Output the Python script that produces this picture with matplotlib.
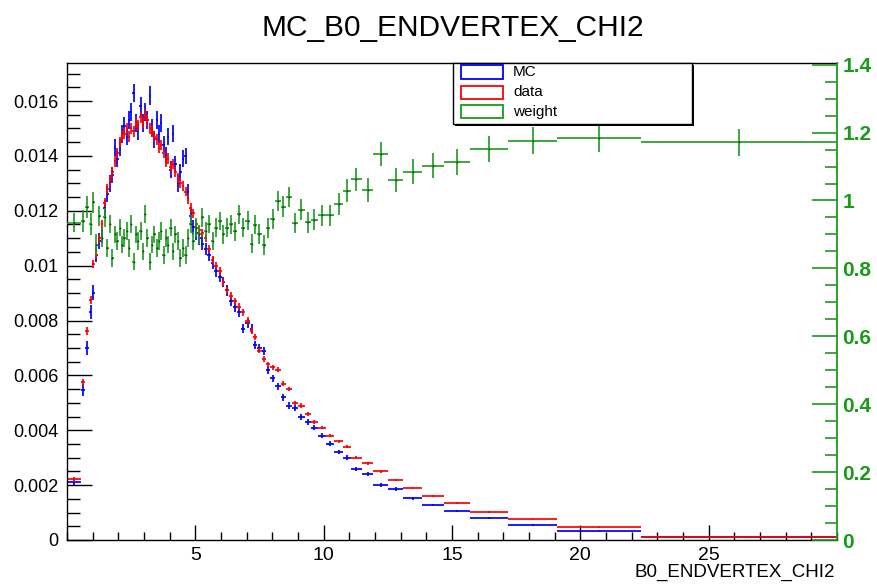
import numpy as np
import matplotlib
matplotlib.use("Agg")
import matplotlib.pyplot as plt
from matplotlib.patches import Rectangle
from matplotlib.ticker import FixedLocator, MultipleLocator, FuncFormatter

plt.rcParams["font.family"] = ["Liberation Sans", "DejaVu Sans"]

# ── data ─────────────────────────────────────────────────
bin_edges = [
    0.0, 0.55, 0.70, 0.86, 0.98,
    1.08, 1.20, 1.31, 1.42, 1.52, 1.62, 1.72, 1.82, 1.92, 2.01,
    2.10, 2.19, 2.28, 2.37, 2.46, 2.55, 2.64, 2.73, 2.82, 2.91,
    3.00, 3.09, 3.18, 3.27, 3.36, 3.45, 3.54, 3.63, 3.72, 3.81,
    3.90, 3.99, 4.08, 4.17, 4.27, 4.37, 4.47, 4.57, 4.67, 4.77,
    4.87, 4.97,
    5.09, 5.21, 5.34, 5.47, 5.60, 5.74, 5.88, 6.02, 6.17, 6.32,
    6.47, 6.63, 6.79, 6.95, 7.12,
    7.26, 7.42, 7.58, 7.74, 7.91, 8.11, 8.32, 8.54, 8.76, 9.01,
    9.26, 9.50, 9.77, 10.08, 10.42, 10.75, 11.05, 11.48, 11.94, 12.50,
    13.10, 13.85, 14.68, 15.72, 17.17, 19.11, 22.37, 30.0,
]

mc_vals = [
    0.00212, 0.00547, 0.00699, 0.00832, 0.00901, 0.0104, 0.0109, 0.0111, 0.0121, 0.0126,
    0.0130, 0.0133, 0.0143, 0.0139, 0.0143, 0.0148, 0.0151, 0.0147, 0.0153, 0.0156,
    0.0163, 0.0152, 0.0149, 0.0158, 0.0152, 0.0156, 0.0153, 0.0162, 0.0150, 0.0146,
    0.0153, 0.0148, 0.0152, 0.0144, 0.0140, 0.0147, 0.0135, 0.0148, 0.0137, 0.0130,
    0.0134, 0.0139, 0.0140, 0.0127, 0.0118, 0.0114, 0.0112, 0.0110, 0.0108, 0.0106,
    0.0104, 0.0101, 0.0098, 0.0096, 0.0094, 0.0091, 0.0087, 0.0085, 0.0083, 0.0077,
    0.0079, 0.0077, 0.0071, 0.0070, 0.0069, 0.0062, 0.0059, 0.0056, 0.0052, 0.0049,
    0.0048, 0.0045, 0.0043, 0.0041, 0.0038, 0.0035, 0.0032, 0.0030, 0.0026, 0.0024,
    0.0020, 0.00186, 0.00152, 0.00128, 0.00106, 0.00079, 0.00055, 0.00034, 0.00012,
]
mc_errs = [
    0.00010, 0.00022, 0.00025, 0.00026, 0.00027, 0.00027, 0.00028, 0.00028, 0.00029, 0.00029,
    0.00030, 0.00030, 0.00031, 0.00031, 0.00031, 0.00032, 0.00032, 0.00032, 0.00032, 0.00032,
    0.00033, 0.00033, 0.00033, 0.00033, 0.00033, 0.00033, 0.00033, 0.00033, 0.00033, 0.00032,
    0.00032, 0.00032, 0.00032, 0.00031, 0.00031, 0.00031, 0.00031, 0.00031, 0.00030, 0.00030,
    0.00030, 0.00030, 0.00030, 0.00029, 0.00028, 0.00027, 0.00026, 0.00025, 0.00024, 0.00023,
    0.00022, 0.00021, 0.00020, 0.00020, 0.00019, 0.00019, 0.00018, 0.00018, 0.00017, 0.00017,
    0.00016, 0.00016, 0.00015, 0.00015, 0.00014, 0.00014, 0.00013, 0.00013, 0.00012, 0.00012,
    0.00011, 0.00011, 0.00010, 0.00010, 0.00009, 0.00009, 0.00008, 0.00008, 0.00007, 0.00007,
    0.00006, 0.00006, 0.00005, 0.00005, 0.00004, 0.00004, 0.00003, 0.00002, 0.00001,
]

data_vals = [
    0.00221, 0.00575, 0.00763, 0.00875, 0.01006, 0.0104, 0.0110, 0.0115, 0.0123, 0.0128,
    0.0131, 0.0134, 0.0138, 0.0141, 0.0145, 0.0147, 0.0148, 0.0150, 0.0147, 0.0150,
    0.0149, 0.0152, 0.0151, 0.0154, 0.0152, 0.0155, 0.0153, 0.0150, 0.0149, 0.0147,
    0.0146, 0.0143, 0.0144, 0.0141, 0.0138, 0.0139, 0.0136, 0.0137, 0.0134, 0.0132,
    0.0130, 0.0129, 0.0127, 0.0124, 0.0121, 0.0119, 0.0115, 0.0113, 0.0112, 0.0110,
    0.0106, 0.0102, 0.0100, 0.0098, 0.0094, 0.0091, 0.0089, 0.0087, 0.0085, 0.0083,
    0.0080, 0.0076, 0.0074, 0.0069, 0.0066, 0.0064, 0.0063, 0.0062, 0.0057, 0.0055,
    0.0050, 0.0049, 0.0046, 0.0043, 0.0041, 0.0038, 0.0036, 0.0034, 0.0030, 0.0028,
    0.0025, 0.0022, 0.0019, 0.0016, 0.00134, 0.00101, 0.00075, 0.00046, 0.00010,
]
data_errs = [
    0.00008, 0.00013, 0.00015, 0.00015, 0.00016, 0.00017, 0.00017, 0.00017, 0.00018, 0.00018,
    0.00018, 0.00019, 0.00019, 0.00019, 0.00020, 0.00020, 0.00020, 0.00020, 0.00020, 0.00020,
    0.00020, 0.00020, 0.00020, 0.00020, 0.00020, 0.00020, 0.00020, 0.00020, 0.00020, 0.00020,
    0.00020, 0.00020, 0.00019, 0.00019, 0.00019, 0.00019, 0.00019, 0.00019, 0.00018, 0.00018,
    0.00018, 0.00018, 0.00018, 0.00017, 0.00017, 0.00017, 0.00016, 0.00016, 0.00015, 0.00015,
    0.00015, 0.00014, 0.00014, 0.00014, 0.00013, 0.00013, 0.00013, 0.00012, 0.00012, 0.00012,
    0.00011, 0.00011, 0.00011, 0.00010, 0.00010, 0.00010, 0.00009, 0.00009, 0.00009, 0.00008,
    0.00008, 0.00008, 0.00007, 0.00007, 0.00007, 0.00006, 0.00006, 0.00006, 0.00005, 0.00005,
    0.00005, 0.00004, 0.00004, 0.00004, 0.00003, 0.00003, 0.00002, 0.00002, 0.00001,
]

weight_vals = [
    0.935, 0.94, 0.98, 0.93, 0.995, 0.87, 0.955, 0.89, 0.95, 0.86,
    0.93, 0.83, 0.90, 0.88, 0.92, 0.87, 0.89, 0.91, 0.86, 0.93,
    0.82, 0.90, 0.88, 0.91, 0.85, 0.96, 0.89, 0.82, 0.87, 0.90,
    0.86, 0.88, 0.91, 0.84, 0.89, 0.87, 0.92, 0.85, 0.90, 0.88,
    0.83, 0.86, 0.84, 0.89, 0.93, 0.88, 0.92, 0.90, 0.95, 0.91,
    0.93, 0.88, 0.92, 0.94, 0.90, 0.92, 0.93, 0.91, 0.96, 0.92,
    0.94, 0.873, 0.929, 0.902, 0.868, 0.92, 0.946, 0.998, 0.982, 1.01,
    0.933, 0.973, 0.936, 0.943, 0.956, 0.956, 0.99, 1.029, 1.062, 1.031,
    1.137, 1.061, 1.085, 1.103, 1.113, 1.152, 1.176, 1.184, 1.171,
]
weight_errs = [
    0.027, 0.033, 0.033, 0.032, 0.031, 0.030, 0.029, 0.028, 0.028, 0.027,
    0.027, 0.027, 0.026, 0.026, 0.026, 0.026, 0.026, 0.026, 0.026, 0.026,
    0.026, 0.026, 0.026, 0.026, 0.026, 0.026, 0.026, 0.026, 0.026, 0.026,
    0.026, 0.026, 0.026, 0.026, 0.026, 0.026, 0.026, 0.026, 0.026, 0.027,
    0.027, 0.027, 0.027, 0.027, 0.027, 0.027, 0.027, 0.027, 0.027, 0.027,
    0.027, 0.027, 0.027, 0.027, 0.028, 0.028, 0.028, 0.028, 0.028, 0.028,
    0.028, 0.028, 0.028, 0.029, 0.029, 0.029, 0.029, 0.029, 0.030, 0.030,
    0.030, 0.030, 0.031, 0.031, 0.031, 0.032, 0.032, 0.033, 0.033, 0.034,
    0.035, 0.035, 0.036, 0.037, 0.038, 0.039, 0.040, 0.040, 0.039,
]

legend_labels = ["MC", "data", "weight"]

BLUE = "#0000ff"
RED = "#ff0000"
GREEN = "#1c9a1c"

edges = np.array(bin_edges)
centers = 0.5 * (edges[1:] + edges[:-1])
halfw = 0.5 * np.diff(edges)

W, H = 878, 585
fig = plt.figure(figsize=(W / 100, H / 100), dpi=100, facecolor="white")

# frame: x 67..837 px, y 63..540 px
ax = fig.add_axes([67 / W, 45 / H, 770 / W, 477 / H])

ax.errorbar(centers, mc_vals, xerr=halfw, yerr=mc_errs, fmt="none",
            ecolor=BLUE, elinewidth=1.25, capsize=0)
ax.errorbar(centers, data_vals, xerr=halfw, yerr=data_errs, fmt="none",
            ecolor=RED, elinewidth=1.25, capsize=0)

ax.set_xlim(0, 30)
ax.set_ylim(0, 0.017385)

ax.xaxis.set_major_locator(FixedLocator([5, 10, 15, 20, 25]))
ax.xaxis.set_minor_locator(MultipleLocator(1))
ax.yaxis.set_major_locator(MultipleLocator(0.002))
ax.yaxis.set_minor_locator(MultipleLocator(0.0005))
ax.yaxis.set_major_formatter(FuncFormatter(lambda v, p: f"{round(v, 4):g}"))

ax.tick_params(axis="x", which="major", direction="in", length=11, width=1,
               labelsize=14, pad=5, top=False)
ax.tick_params(axis="x", which="minor", direction="in", length=5.5, width=1, top=False)
ax.tick_params(axis="y", which="major", direction="in", length=18, width=1,
               labelsize=13, pad=6, right=False)
ax.tick_params(axis="y", which="minor", direction="in", length=9, width=1, right=False)
ax.spines["right"].set_visible(False)
for s in ["left", "top", "bottom"]:
    ax.spines[s].set_linewidth(1)

# ── weight on the right axis ─────────────────────────────
ax2 = ax.twinx()
ax2.errorbar(centers, weight_vals, xerr=halfw, yerr=weight_errs, fmt="none",
             ecolor=GREEN, elinewidth=1.2, capsize=0)
ax2.plot(centers, weight_vals, linestyle="none", marker="o", ms=1.3,
         color="#1a3a1a", mew=0)
ax2.set_ylim(0, 1.405)
ax2.yaxis.set_major_locator(MultipleLocator(0.2))
ax2.yaxis.set_minor_locator(MultipleLocator(0.05))
ax2.yaxis.set_major_formatter(FuncFormatter(lambda v, p: f"{round(v, 1):g}"))
ax2.tick_params(axis="y", which="major", direction="in", length=18, width=1.2,
                color=GREEN, labelcolor=GREEN, labelsize=15, pad=4)
ax2.tick_params(axis="y", which="minor", direction="in", length=9, width=1.2, color=GREEN)
for lab in ax2.get_yticklabels():
    lab.set_fontweight("bold")
for s in ["left", "top", "bottom"]:
    ax2.spines[s].set_visible(False)
ax2.spines["right"].set_color(GREEN)
ax2.spines["right"].set_linewidth(1.3)

# ── titles ──────────────────────────────────────────────
fig.text(453 / W, 1 - 28 / H, "MC_B0_ENDVERTEX_CHI2", ha="center", va="center",
         fontsize=21.5)
fig.text(835 / W, 1 - 572 / H, "B0_ENDVERTEX_CHI2", ha="right", va="center",
         fontsize=13.5)

# ── legend box (ROOT style) ─────────────────────────────
lx0, lx1, ly0, ly1 = 453, 692, 63, 124
fig.patches.append(Rectangle((lx0 / W + 2 / W, 1 - (ly1 + 2) / H), (lx1 - lx0) / W,
                             (ly1 - ly0) / H, transform=fig.transFigure,
                             facecolor="black", edgecolor="none", zorder=9))
fig.patches.append(Rectangle((lx0 / W, 1 - ly1 / H), (lx1 - lx0) / W, (ly1 - ly0) / H,
                             transform=fig.transFigure, facecolor="white",
                             edgecolor="black", lw=1, zorder=10))
for i, (lab, col) in enumerate(zip(legend_labels, [BLUE, RED, GREEN])):
    cy = 72 + 20 * i
    fig.patches.append(Rectangle((461 / W, 1 - (cy + 6.5) / H), 42 / W, 13 / H,
                                 transform=fig.transFigure, facecolor="white",
                                 edgecolor=col, lw=1.3, zorder=11))
    fig.text(513 / W, 1 - cy / H, lab, ha="left", va="center", fontsize=11, zorder=12)

fig.savefig("out.png", dpi=100, facecolor="white")
